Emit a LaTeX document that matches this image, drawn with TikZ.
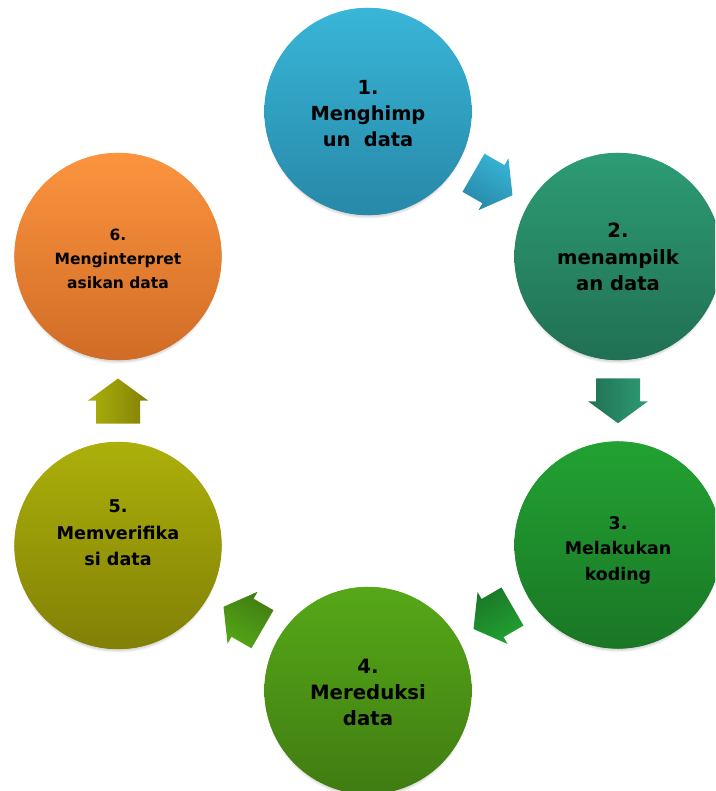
\documentclass[tikz,border=0pt]{standalone}
\usepackage{fontspec}
\setmainfont{DejaVu Sans}
\usetikzlibrary{calc}
\definecolor{aT}{RGB}{56,182,216}
\definecolor{aB}{RGB}{40,136,168}
\definecolor{bT}{RGB}{45,156,116}
\definecolor{bB}{RGB}{33,112,84}
\definecolor{cT}{RGB}{34,162,50}
\definecolor{cB}{RGB}{26,118,38}
\definecolor{dT}{RGB}{86,168,24}
\definecolor{dB}{RGB}{64,124,18}
\definecolor{eT}{RGB}{172,176,10}
\definecolor{eB}{RGB}{130,128,6}
\definecolor{fT}{RGB}{252,148,62}
\definecolor{fB}{RGB}{208,108,38}
\tikzset{
  bubble/.style={circle, minimum size=207pt, inner sep=0pt, draw=none},
  blabel/.style={align=center, text=black, inner sep=0pt},
  softshade/.style={fill=black, opacity=0.05},
  rim/.style={line width=1.1pt, line cap=butt}
}
\newcommand\flowarrow[5]{%
  \begin{scope}[transform canvas={shift={($(#1)!0.5!(#2)$)}, rotate=#3}]
    \shade[top color=#4, bottom color=#5]
      (-22.5,-22) -- (0.5,-22) -- (0.5,-30) -- (22.5,0) -- (0.5,30) -- (0.5,22) -- (-22.5,22) -- cycle;
  \end{scope}}
\newcommand\ballshade[3]{%
  \shade[top color=#2, bottom color=#3] (#1) circle (103.5);
  \foreach \a in {0,10,...,350}{
    \pgfmathtruncatemacro\pct{50+50*sin(\a+5)}
    \draw[rim, color=#2!\pct!#3] ($(#1)+(\a:103.1)$) arc[start angle=\a, end angle=\a+10.6, radius=103.1];
  }}
\begin{document}
\begin{tikzpicture}[x=1pt,y=1pt]
\useasboundingbox (0,0) rectangle (715,-791);
\clip (0,0) rectangle (715,-791);
\fill[white] (0,0) rectangle (715,-791);
% circle positions
\node[bubble] (n1) at (368,-111.5) {};
\node[bubble] (n2) at (618,-256.5) {};
\node[bubble] (n3) at (618,-545) {};
\node[bubble] (n4) at (368,-690.5) {};
\node[bubble] (n5) at (118,-545.5) {};
\node[bubble] (n6) at (118,-256.5) {};
% soft shadows
\foreach \nn in {n1,n2,n3,n4,n5,n6}{
  \foreach \rr in {103,102,101}{
    \fill[softshade] ($(\nn)+(0,-4)$) circle (\rr);
  }
}
% shaded discs
\ballshade{n1}{aT}{aB}
\ballshade{n2}{bT}{bB}
\ballshade{n3}{cT}{cB}
\ballshade{n4}{dT}{dB}
\ballshade{n5}{eT}{eB}
\ballshade{n6}{fT}{fB}
% labels
\node[blabel, font=\bfseries\fontsize{19.4}{26}\selectfont] (t1) at (368,-114) {1.\\Menghimp\\un\ \ data};
\node[blabel, font=\bfseries\fontsize{19.6}{26.5}\selectfont] (t2) at (618,-257) {2.\\menampilk\\an data};
\node[blabel, font=\bfseries\fontsize{17.4}{25.5}\selectfont] (t3) at (618,-550) {3.\\Melakukan\\koding};
\node[blabel, font=\bfseries\fontsize{19.7}{26}\selectfont] (t4) at (368,-692) {4.\\Mereduksi\\data};
\node[blabel, font=\bfseries\fontsize{17.6}{26.5}\selectfont] (t5) at (118,-533) {5.\\Memverifika\\si data};
\node[blabel, font=\bfseries\fontsize{15.5}{24}\selectfont] (t6) at (118,-259) {6.\\Menginterpret\\asikan data};
% arrows
\flowarrow{n1}{n2}{-30}{aT}{aB}
\flowarrow{n2}{n3}{-90}{bT}{bB}
\flowarrow{n3}{n4}{-150}{cT}{cB}
\flowarrow{n4}{n5}{150}{dT}{dB}
\flowarrow{n5}{n6}{90}{eT}{eB}
\end{tikzpicture}
\end{document}
